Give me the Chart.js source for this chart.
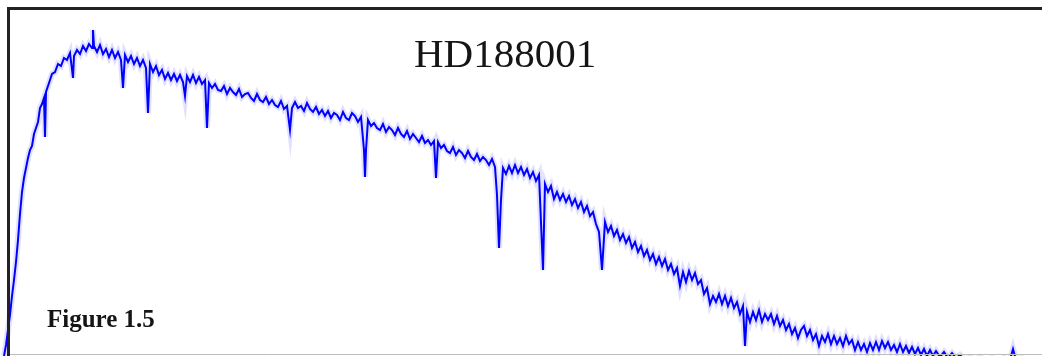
<!DOCTYPE html>
<html>
<head>
<meta charset="utf-8">
<script src="https://cdn.jsdelivr.net/npm/chart.js@4"></script>
<style>
  body { margin: 0; background: #fff; }
  .wrap { position: relative; width: 1042px; height: 356px; }
</style>
</head>
<body>
<div class="wrap"><canvas id="spectrum"></canvas></div>
<script>
const starName = 'HD188001';
const figLabel = 'Figure 1.5';

// wavelength (arbitrary units)
const wave = [
  4,6,8,10,12,14,16,18,20,22,24,26,28,30,32,34,36,38,40,42,44,
  45,46,48,50,52,
  55,58,61,64,67,70,
  73,74,
  77,80,83,86,89,92,
  93,94,
  97,100,103,106,109,112,115,118,121,
  123,125,
  128,131,134,137,140,143,146,
  148,150,
  153,156,159,162,165,168,171,174,177,180,183,
  185,187,
  190,193,196,199,202,205,
  207,209,
  212,215,218,221,224,227,230,233,236,239,242,245,248,251,254,257,260,263,266,269,272,275,278,281,284,287,
  290,292,
  295,298,301,304,307,310,313,316,319,322,325,328,331,334,337,340,343,346,349,352,355,358,361,
  364,365,366,368,
  371,374,377,380,383,386,389,392,395,398,401,404,407,410,413,416,419,422,425,428,431,434,
  436,438,
  441,444,447,450,453,456,459,462,465,468,471,474,477,480,483,486,489,492,495,
  497,499,501,503,
  506,509,512,515,518,521,524,527,530,533,536,539,
  543,545,
  548,551,554,557,560,563,566,569,572,575,578,581,584,587,590,593,596,599,
  602,605,
  608,611,614,617,620,623,626,629,632,635,638,641,644,647,650,653,656,659,662,665,668,671,674,677,680,683,686,689,692,695,698,701,704,707,710,713,716,719,722,725,728,731,734,737,740,743,
  745,747,
  750,753,756,759,762,765,768,771,774,777,780,783,786,789,792,795,798,801,804,807,810,813,816,819,822,825,828,831,834,837,840,843,846,849,852,855,858,861,864,867,870,873,876,879,882,885,888,891,894,897,900,903,906,909,912,915,918,921,924,927,930,933,936,
  940,944,948,952,956,960,
  965,970,975,980,
  986,992,998,1004,1010,
  1013,1016,
  1022,1028,1034,1040
];

// relative flux
const flux = [
  0,11,26,41,60,76,94,116,142,164,178,188,198,206,210,222,228,234,248,252,258,
  219,264,270,276,282,
  284,292,290,298,296,303,
  278,300,
  306,302,310,305,312,308,
  326,310,
  304,311,302,307,299,306,298,304,296,
  268,301,
  294,300,292,298,290,296,288,
  243,292,
  284,290,281,286,277,283,276,282,275,281,274,
  260,280,
  274,281,273,279,272,276,
  228,273,
  268,272,266,265,270,262,268,264,261,267,259,262,263,258,255,262,256,254,259,252,256,251,249,255,247,250,
  226,248,
  254,248,250,245,253,247,244,249,242,246,240,245,238,243,241,236,244,238,236,243,240,234,239,
  206,179,206,236,
  230,233,228,226,232,224,229,226,221,228,222,219,225,217,222,218,214,220,213,216,211,215,
  178,214,
  208,211,205,203,209,201,206,203,198,205,199,196,202,195,199,196,191,197,189,
  161,108,156,188,
  182,190,183,191,183,189,181,187,178,184,175,181,
  86,172,
  164,170,157,164,156,162,154,160,151,157,148,154,144,150,140,144,132,124,
  86,134,
  124,130,120,126,116,122,113,119,108,114,104,110,100,106,96,102,92,99,90,97,86,92,82,88,70,84,74,85,76,83,72,76,62,68,52,60,54,62,52,60,50,58,48,54,42,50,
  10,44,
  34,44,36,46,34,42,36,42,32,40,30,36,26,32,22,28,18,26,30,20,26,16,22,10,20,14,22,12,20,12,18,10,20,12,16,6,14,6,12,4,13,6,14,6,15,8,14,6,11,4,12,4,10,3,9,2,8,1,7,0,6,0,5,
  -1,4,-2,3,-2,1,
  -4,-1,-4,-1,
  -5,-2,-5,-2,-4,
  7,-4,
  -2,-5,-3,-5
];

const points = wave.map((w, i) => ({ x: w, y: flux[i] }));

// frame + captions drawn over the plot
const frameAndText = {
  id: 'frameAndText',
  afterDraw(chart) {
    const ctx = chart.ctx;
    ctx.save();
    ctx.strokeStyle = '#bdbdbd';
    ctx.lineWidth = 1;
    ctx.beginPath();
    ctx.moveTo(9, 354.5);
    ctx.lineTo(1042, 354.5);
    ctx.stroke();

    ctx.strokeStyle = '#222';
    ctx.lineWidth = 3;
    ctx.beginPath();
    ctx.moveTo(1042, 8.5);
    ctx.lineTo(8.5, 8.5);
    ctx.lineTo(8.5, 356);
    ctx.stroke();

    ctx.fillStyle = '#151515';
    ctx.textBaseline = 'alphabetic';
    ctx.textAlign = 'left';
    ctx.font = '41px "Liberation Serif", "DejaVu Serif", serif';
    ctx.fillText(starName, 414, 67);
    ctx.font = 'bold 25px "Liberation Serif", "DejaVu Serif", serif';
    ctx.fillText(figLabel, 47, 327);
    ctx.restore();
  }
};

new Chart(document.getElementById('spectrum'), {
  type: 'line',
  data: {
    datasets: [{
      data: points,
      borderColor: '#0000ff',
      borderWidth: 2,
      pointRadius: 0,
      tension: 0
    }, {
      data: points,
      borderColor: 'rgba(90, 90, 255, 0.18)',
      borderWidth: 6,
      pointRadius: 0,
      tension: 0
    }]
  },
  options: {
    responsive: true,
    maintainAspectRatio: false,
    animation: false,
    layout: { padding: 0 },
    plugins: {
      legend: { display: false },
      tooltip: { enabled: false }
    },
    scales: {
      x: { type: 'linear', min: 0, max: 1042, display: false },
      y: { min: 0, max: 356, display: false }
    }
  },
  plugins: [frameAndText]
});
</script>
</body>
</html>
